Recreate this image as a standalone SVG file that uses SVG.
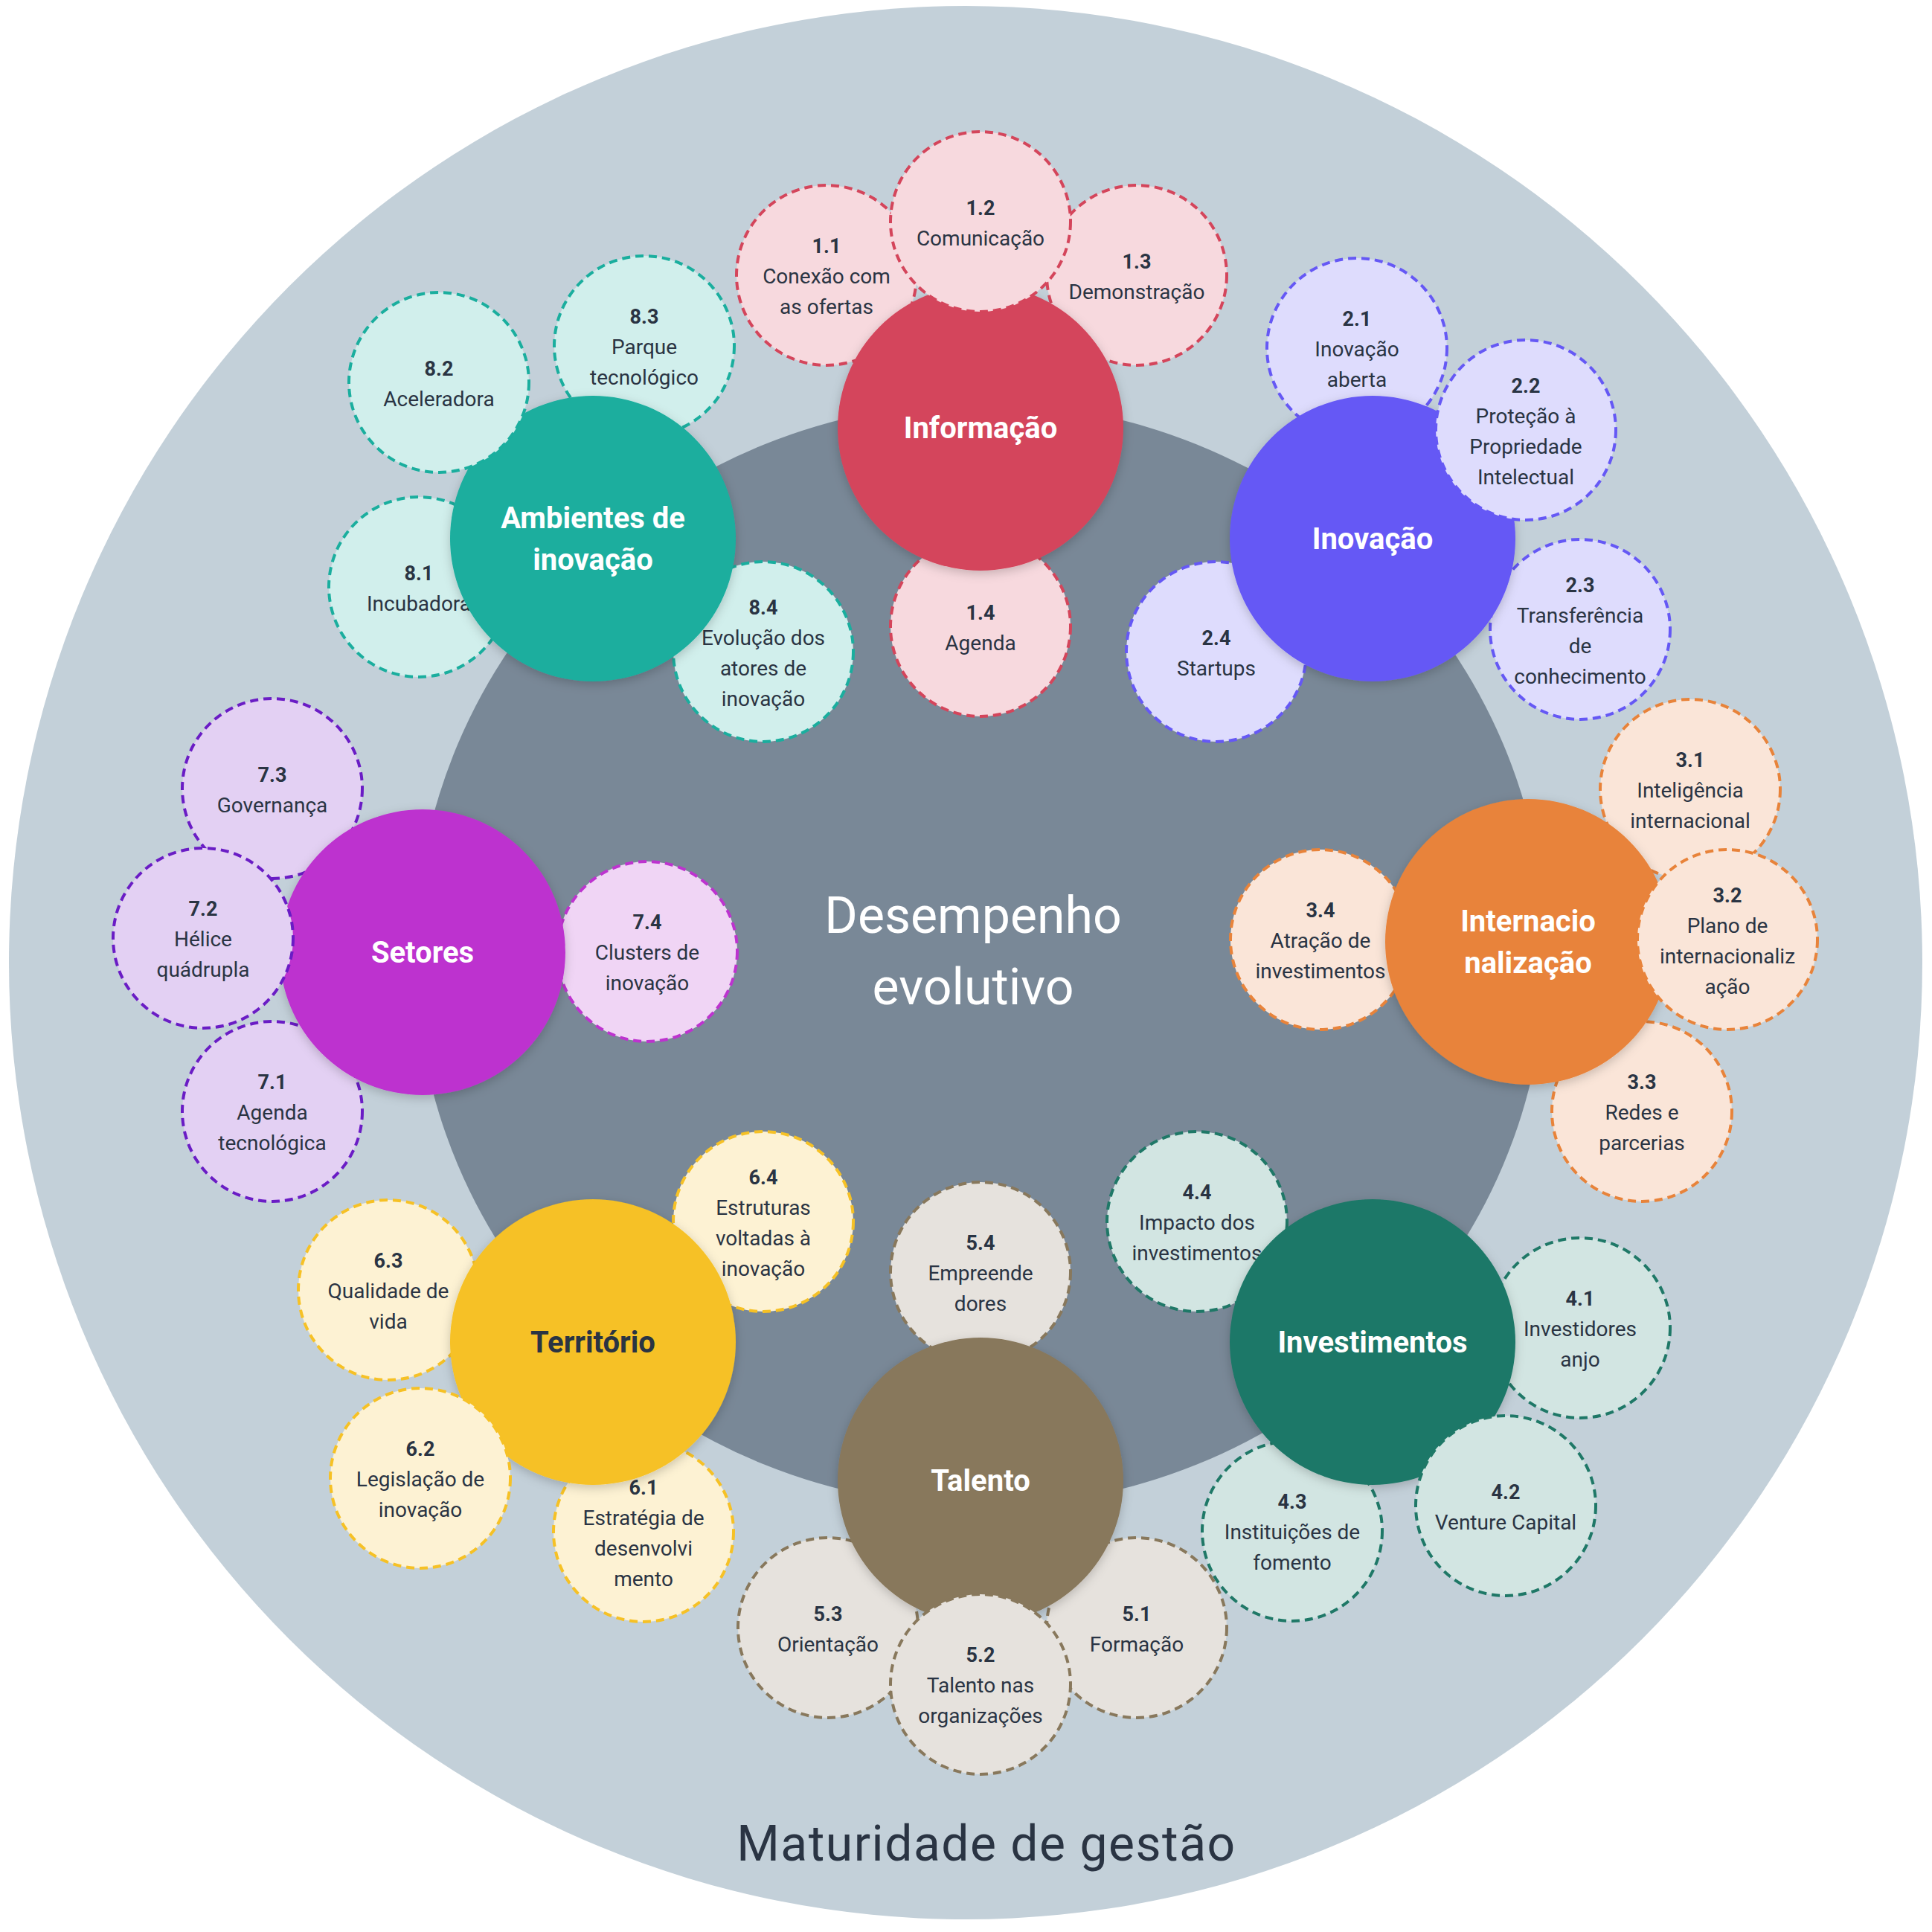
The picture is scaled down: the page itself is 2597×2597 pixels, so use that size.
<svg xmlns="http://www.w3.org/2000/svg" width="2597" height="2597" viewBox="0 0 2597 2597">
<defs>
<filter id="sh" x="-20%" y="-20%" width="140%" height="140%">
<feDropShadow dx="0" dy="4" stdDeviation="7" flood-color="#000" flood-opacity="0.2"/>
</filter>
</defs>
<style>
text{font-family:Roboto,"Noto Sans","Liberation Sans",sans-serif;text-anchor:middle}
.n{font-weight:700;font-size:27px;fill:#2a3443}
.t{font-weight:400;font-size:28px;fill:#2a3443}
.m{font-weight:700;font-size:40px;fill:#ffffff}
.md{font-weight:700;font-size:40px;fill:#2a3443}
.sm{stroke-width:4;stroke-dasharray:11 7}
.k1{fill:#f7d9de;stroke:#d4455b}
.k2{fill:#dedcfd;stroke:#6558f5}
.k3{fill:#fae5d8;stroke:#e8833a}
.k4{fill:#d2e5e2;stroke:#1f7867}
.k5{fill:#e6e2dd;stroke:#88785c}
.k6{fill:#fdf2d3;stroke:#f6c125}
.k7{fill:#e3d0f3;stroke:#6a1cc5}
.k7b{fill:#f0d5f5;stroke:#bd33cf}
.k8{fill:#d1efec;stroke:#1aae9e}
.big{filter:url(#sh)}
</style>
<rect width="2597" height="2597" fill="#ffffff"/>
<g id="background">
<circle cx="1298" cy="1294" r="1286" fill="#c3d0d9"/>
<ellipse cx="1318" cy="1283" rx="760" ry="742" fill="#798897"/>
<text x="1308" y="1254" style="font-size:68px;font-weight:400;fill:#ffffff">Desempenho</text>
<text x="1308" y="1350" style="font-size:68px;font-weight:400;fill:#ffffff">evolutivo</text>
<text x="1326" y="2501" style="font-size:66px;font-weight:400;fill:#2a3443;letter-spacing:1.5px">Maturidade de gestão</text>
</g>
<g id="connectors"></g>

<!-- 1 Informação -->
<g id="n1-1"><circle class="sm k1" cx="1111" cy="370" r="121"/><text class="n" x="1111" y="340">1.1</text><text class="t" x="1111" y="381">Conexão com</text><text class="t" x="1111" y="422">as ofertas</text></g>
<g id="n1-3"><circle class="sm k1" cx="1528" cy="370" r="121"/><text class="n" x="1528" y="360.5">1.3</text><text class="t" x="1528" y="401.5">Demonstração</text></g>
<g id="n1-4"><circle class="sm k1" cx="1318" cy="842" r="121"/><text class="n" x="1318" y="832.5">1.4</text><text class="t" x="1318" y="873.5">Agenda</text></g>
<g id="n1"><circle class="big" cx="1318" cy="575" r="192" fill="#d4455b"/><text class="m" x="1318" y="589">Informação</text></g>
<g id="n1-2"><circle class="sm k1" cx="1318" cy="298" r="121"/><text class="n" x="1318" y="288.5">1.2</text><text class="t" x="1318" y="329.5">Comunicação</text></g>

<!-- 2 Inovação -->
<g id="n2-1"><circle class="sm k2" cx="1824" cy="468" r="121"/><text class="n" x="1824" y="438">2.1</text><text class="t" x="1824" y="479">Inovação</text><text class="t" x="1824" y="520">aberta</text></g>
<g id="n2-3"><circle class="sm k2" cx="2124" cy="846" r="121"/><text class="n" x="2124" y="795.5">2.3</text><text class="t" x="2124" y="836.5">Transferência</text><text class="t" x="2124" y="877.5">de</text><text class="t" x="2124" y="918.5">conhecimento</text></g>
<g id="n2-4"><circle class="sm k2" cx="1635" cy="876" r="121"/><text class="n" x="1635" y="866.5">2.4</text><text class="t" x="1635" y="907.5">Startups</text></g>
<g id="n2"><circle class="big" cx="1845" cy="724" r="192" fill="#6558f5"/><text class="m" x="1845" y="738">Inovação</text></g>
<g id="n2-2"><circle class="sm k2" cx="2051" cy="578" r="121"/><text class="n" x="2051" y="527.5">2.2</text><text class="t" x="2051" y="568.5">Proteção à</text><text class="t" x="2051" y="609.5">Propriedade</text><text class="t" x="2051" y="650.5">Intelectual</text></g>

<!-- 3 Internacionalização -->
<g id="n3-1"><circle class="sm k3" cx="2272" cy="1061" r="121"/><text class="n" x="2272" y="1031">3.1</text><text class="t" x="2272" y="1072">Inteligência</text><text class="t" x="2272" y="1113">internacional</text></g>
<g id="n3-3"><circle class="sm k3" cx="2207" cy="1494" r="121"/><text class="n" x="2207" y="1464">3.3</text><text class="t" x="2207" y="1505">Redes e</text><text class="t" x="2207" y="1546">parcerias</text></g>
<g id="n3-4"><circle class="sm k3" cx="1775" cy="1263" r="121"/><text class="n" x="1775" y="1233">3.4</text><text class="t" x="1775" y="1274">Atração de</text><text class="t" x="1775" y="1315">investimentos</text></g>
<g id="n3"><circle class="big" cx="2054" cy="1266" r="192" fill="#e8833a"/><text class="m" x="2054" y="1252">Internacio</text><text class="m" x="2054" y="1308">nalização</text></g>
<g id="n3-2"><circle class="sm k3" cx="2322" cy="1263" r="121"/><text class="n" x="2322" y="1212.5">3.2</text><text class="t" x="2322" y="1253.5">Plano de</text><text class="t" x="2322" y="1294.5">internacionaliz</text><text class="t" x="2322" y="1335.5">ação</text></g>

<!-- 4 Investimentos -->
<g id="n4-1"><circle class="sm k4" cx="2124" cy="1785" r="121"/><text class="n" x="2124" y="1755">4.1</text><text class="t" x="2124" y="1796">Investidores</text><text class="t" x="2124" y="1837">anjo</text></g>
<g id="n4-3"><circle class="sm k4" cx="1737" cy="2058" r="121"/><text class="n" x="1737" y="2028">4.3</text><text class="t" x="1737" y="2069">Instituições de</text><text class="t" x="1737" y="2110">fomento</text></g>
<g id="n4-4"><circle class="sm k4" cx="1609" cy="1642" r="121"/><text class="n" x="1609" y="1612">4.4</text><text class="t" x="1609" y="1653">Impacto dos</text><text class="t" x="1609" y="1694">investimentos</text></g>
<g id="n4"><circle class="big" cx="1845" cy="1804" r="192" fill="#1f7867"/><text class="m" x="1845" y="1818">Investimentos</text></g>
<g id="n4-2"><circle class="sm k4" cx="2024" cy="2024" r="121"/><text class="n" x="2024" y="2014.5">4.2</text><text class="t" x="2024" y="2055.5">Venture Capital</text></g>

<!-- 5 Talento -->
<g id="n5-1"><circle class="sm k5" cx="1528" cy="2188" r="121"/><text class="n" x="1528" y="2178.5">5.1</text><text class="t" x="1528" y="2219.5">Formação</text></g>
<g id="n5-3"><circle class="sm k5" cx="1113" cy="2188" r="121"/><text class="n" x="1113" y="2178.5">5.3</text><text class="t" x="1113" y="2219.5">Orientação</text></g>
<g id="n5-4"><circle class="sm k5" cx="1318" cy="1710" r="121"/><text class="n" x="1318" y="1680">5.4</text><text class="t" x="1318" y="1721">Empreende</text><text class="t" x="1318" y="1762">dores</text></g>
<g id="n5"><circle class="big" cx="1318" cy="1990" r="192" fill="#88785c"/><text class="m" x="1318" y="2004">Talento</text></g>
<g id="n5-2"><circle class="sm k5" cx="1318" cy="2264" r="121"/><text class="n" x="1318" y="2234">5.2</text><text class="t" x="1318" y="2275">Talento nas</text><text class="t" x="1318" y="2316">organizações</text></g>

<!-- 6 Território -->
<g id="n6-1"><circle class="sm k6" cx="865" cy="2059" r="121"/><text class="n" x="865" y="2008.5">6.1</text><text class="t" x="865" y="2049.5">Estratégia de</text><text class="t" x="865" y="2090.5">desenvolvi</text><text class="t" x="865" y="2131.5">mento</text></g>
<g id="n6-3"><circle class="sm k6" cx="522" cy="1734" r="121"/><text class="n" x="522" y="1704">6.3</text><text class="t" x="522" y="1745">Qualidade de</text><text class="t" x="522" y="1786">vida</text></g>
<g id="n6-4"><circle class="sm k6" cx="1026" cy="1642" r="121"/><text class="n" x="1026" y="1591.5">6.4</text><text class="t" x="1026" y="1632.5">Estruturas</text><text class="t" x="1026" y="1673.5">voltadas à</text><text class="t" x="1026" y="1714.5">inovação</text></g>
<g id="n6"><circle class="big" cx="797" cy="1804" r="192" fill="#f6c125"/><text class="md" x="797" y="1818">Território</text></g>
<g id="n6-2"><circle class="sm k6" cx="565" cy="1987" r="121"/><text class="n" x="565" y="1957">6.2</text><text class="t" x="565" y="1998">Legislação de</text><text class="t" x="565" y="2039">inovação</text></g>

<!-- 7 Setores -->
<g id="n7-1"><circle class="sm k7" cx="366" cy="1494" r="121"/><text class="n" x="366" y="1464">7.1</text><text class="t" x="366" y="1505">Agenda</text><text class="t" x="366" y="1546">tecnológica</text></g>
<g id="n7-3"><circle class="sm k7" cx="366" cy="1060" r="121"/><text class="n" x="366" y="1050.5">7.3</text><text class="t" x="366" y="1091.5">Governança</text></g>
<g id="n7-4"><circle class="sm k7b" cx="870" cy="1279" r="121"/><text class="n" x="870" y="1249">7.4</text><text class="t" x="870" y="1290">Clusters de</text><text class="t" x="870" y="1331">inovação</text></g>
<g id="n7"><circle class="big" cx="568" cy="1280" r="192" fill="#bd33cf"/><text class="m" x="568" y="1294">Setores</text></g>
<g id="n7-2"><circle class="sm k7" cx="273" cy="1261" r="121"/><text class="n" x="273" y="1231">7.2</text><text class="t" x="273" y="1272">Hélice</text><text class="t" x="273" y="1313">quádrupla</text></g>

<!-- 8 Ambientes de inovação -->
<g id="n8-1"><circle class="sm k8" cx="563" cy="789" r="121"/><text class="n" x="563" y="779.5">8.1</text><text class="t" x="563" y="820.5">Incubadora</text></g>
<g id="n8-3"><circle class="sm k8" cx="866" cy="465" r="121"/><text class="n" x="866" y="435">8.3</text><text class="t" x="866" y="476">Parque</text><text class="t" x="866" y="517">tecnológico</text></g>
<g id="n8-4"><circle class="sm k8" cx="1026" cy="876" r="121"/><text class="n" x="1026" y="825.5">8.4</text><text class="t" x="1026" y="866.5">Evolução dos</text><text class="t" x="1026" y="907.5">atores de</text><text class="t" x="1026" y="948.5">inovação</text></g>
<g id="n8"><circle class="big" cx="797" cy="724" r="192" fill="#1aae9e"/><text class="m" x="797" y="710">Ambientes de</text><text class="m" x="797" y="766">inovação</text></g>
<g id="n8-2"><circle class="sm k8" cx="590" cy="514" r="121"/><text class="n" x="590" y="504.5">8.2</text><text class="t" x="590" y="545.5">Aceleradora</text></g>
</svg>
